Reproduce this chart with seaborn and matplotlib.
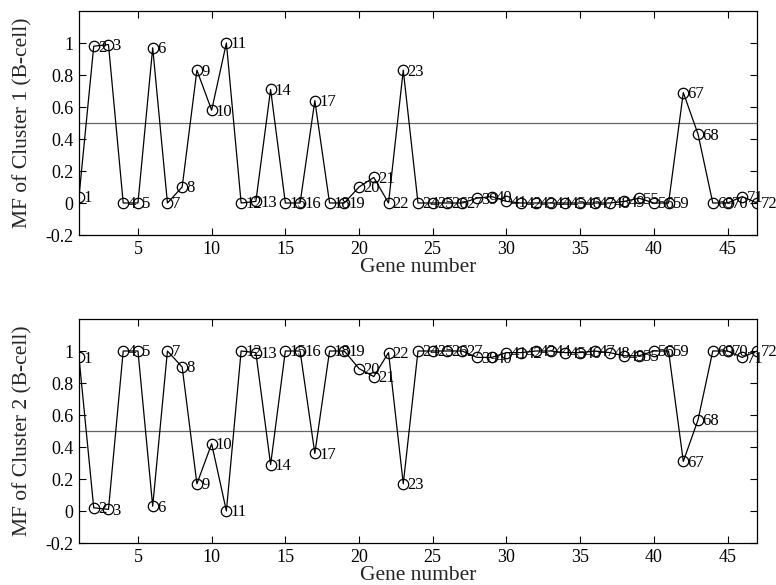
import matplotlib
matplotlib.use("Agg")
import matplotlib.pyplot as plt
import seaborn as sns
import numpy as np
import pandas as pd

gene_labels = [str(i) for i in range(1, 28)] + ["39", "40", "41", "42", "43", "44", "45", "46",
               "47", "48", "49", "55", "56", "59", "67", "68", "69", "70", "71", "72"]
gene_number = list(range(1, 48))

mf_cluster1 = [0.04, 0.98, 0.99, 0.0, 0.0, 0.97, 0.0, 0.10, 0.83, 0.58,
               1.0, 0.0, 0.01, 0.71, 0.0, 0.0, 0.64, 0.0, 0.0, 0.10,
               0.16, 0.0, 0.83, 0.0, 0.0, 0.0, 0.0, 0.03, 0.04, 0.01,
               0.0, 0.0, 0.0, 0.0, 0.0, 0.0, 0.0, 0.01, 0.03, 0.0,
               0.0, 0.69, 0.43, 0.0, 0.0, 0.04, 0.0]
mf_cluster2 = [0.96, 0.02, 0.01, 1.0, 1.0, 0.03, 1.0, 0.90, 0.17, 0.42,
               0.0, 1.0, 0.99, 0.29, 1.0, 1.0, 0.36, 1.0, 1.0, 0.89,
               0.84, 0.99, 0.17, 1.0, 1.0, 1.0, 1.0, 0.96, 0.96, 0.99,
               0.99, 1.0, 1.0, 0.99, 0.99, 1.0, 0.99, 0.97, 0.97, 1.0,
               1.0, 0.31, 0.57, 1.0, 1.0, 0.96, 1.0]
threshold = 0.5

sns.set_theme(style="white")
plt.rcParams["font.family"] = ["Liberation Serif", "DejaVu Serif"]

fig = plt.figure(figsize=(7.76, 5.85), dpi=100)
W, H = 776, 585
ax1 = fig.add_axes([79 / W, 1 - 235 / H, (757 - 79) / W, (235 - 11) / H])
ax2 = fig.add_axes([79 / W, 1 - 543 / H, (757 - 79) / W, (543 - 319) / H])

for ax, vals, ylab in [(ax1, mf_cluster1, "MF of Cluster 1 (B-cell)"),
                       (ax2, mf_cluster2, "MF of Cluster 2 (B-cell)")]:
    df = pd.DataFrame({"x": gene_number, "y": vals})
    sns.lineplot(data=df, x="x", y="y", ax=ax, color="black", linewidth=0.9,
                 marker="o", markersize=7.5, markerfacecolor="none",
                 markeredgecolor="black", markeredgewidth=0.9)
    ax.axhline(threshold, color="#666666", linewidth=0.9, zorder=0)
    for xv, yv, lab in zip(gene_number, vals, gene_labels):
        ax.annotate(lab, (xv, yv), xytext=(3, -1), textcoords="offset points",
                    ha="left", va="center", fontsize=12, color="black")
    ax.set_xlim(1, 47)
    ax.set_ylim(-0.2, 1.2)
    ax.set_xticks([5, 10, 15, 20, 25, 30, 35, 40, 45])
    ax.set_yticks([-0.2, 0, 0.2, 0.4, 0.6, 0.8, 1])
    ax.set_yticklabels(["-0.2", "0", "0.2", "0.4", "0.6", "0.8", "1"])
    ax.tick_params(direction="in", length=5, width=0.8, top=True, right=True,
                   labelsize=13, colors="black", pad=4,
                   bottom=True, left=True)
    for s in ax.spines.values():
        s.set_color("black")
        s.set_linewidth(0.9)
    ax.set_xlabel("Gene number", fontsize=15.5, labelpad=0)
    ax.set_ylabel(ylab, fontsize=15.5, labelpad=9)

fig.savefig("out.png", dpi=100)
